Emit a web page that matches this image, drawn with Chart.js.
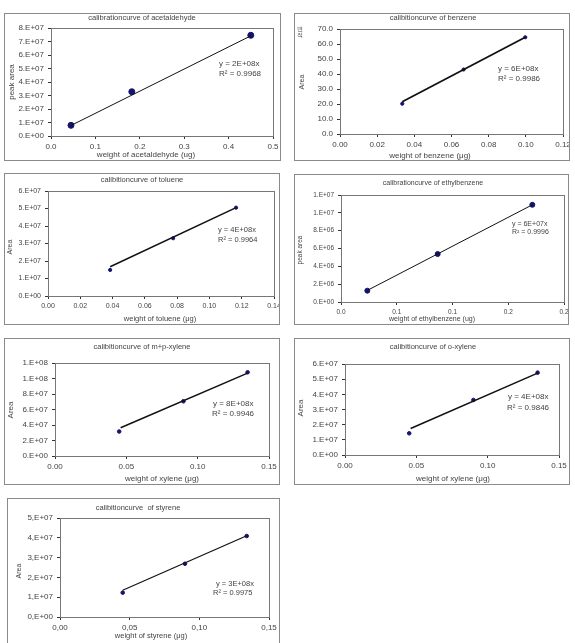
<!DOCTYPE html>
<html>
<head>
<meta charset="utf-8">
<script src="https://cdn.jsdelivr.net/npm/chart.js@4.4.0/dist/chart.umd.min.js"></script>
<style>
html, body { margin: 0; padding: 0; background: #fff; width: 575px; height: 643px; overflow: hidden; position: relative; }
canvas { position: absolute; }
</style>
</head>
<body>
<canvas id="c1"></canvas>
<canvas id="c2"></canvas>
<canvas id="c3"></canvas>
<canvas id="c4"></canvas>
<canvas id="c5"></canvas>
<canvas id="c6"></canvas>
<canvas id="c7"></canvas>
<script>
// acetaldehyde
const acetX = [0.045, 0.182, 0.45];
const acetY = [0.79e7, 3.28e7, 7.46e7];
const acetFitX = [0.045, 0.45];
const acetFitY = [0.78e7, 7.42e7];
const acetXTicks = ['0.0', '0.1', '0.2', '0.3', '0.4', '0.5'];
const acetYTicks = ['0.E+00', '1.E+07', '2.E+07', '3.E+07', '4.E+07', '5.E+07', '6.E+07', '7.E+07', '8.E+07'];

// benzene
const benzX = [0.0335, 0.0665, 0.0997];
const benzY = [20.2, 43.0, 64.5];
const benzFitX = [0.0335, 0.0997];
const benzFitY = [21.5, 64.5];
const benzXTicks = ['0.00', '0.02', '0.04', '0.06', '0.08', '0.10', '0.12'];
const benzYTicks = ['0.0', '10.0', '20.0', '30.0', '40.0', '50.0', '60.0', '70.0'];

// toluene
const tolX = [0.0385, 0.0775, 0.1165];
const tolY = [1.49e7, 3.3e7, 5.05e7];
const tolFitX = [0.0385, 0.1165];
const tolFitY = [1.67e7, 5.05e7];
const tolXTicks = ['0.00', '0.02', '0.04', '0.06', '0.08', '0.10', '0.12', '0.14'];
const tolYTicks = ['0.E+00', '1.E+07', '2.E+07', '3.E+07', '4.E+07', '5.E+07', '6.E+07'];

// ethylbenzene
const ethX = [0.0236, 0.0867, 0.1716];
const ethY = [1.27e6, 5.38e6, 1.09e7];
const ethFitX = [0.0236, 0.1716];
const ethFitY = [1.3e6, 1.09e7];
const ethXTicks = ['0.0', '0.1', '0.1', '0.2', '0.2'];
const ethYTicks = ['0.E+00', '2.E+06', '4.E+06', '6.E+06', '8.E+06', '1.E+07', '1.E+07'];

// m+p-xylene
const mpX = [0.045, 0.09, 0.135];
const mpY = [3.16e7, 7.06e7, 1.08e8];
const mpFitX = [0.046, 0.135];
const mpFitY = [3.65e7, 1.07e8];
const mpXTicks = ['0.00', '0.05', '0.10', '0.15'];
const mpYTicks = ['0.E+00', '2.E+07', '4.E+07', '6.E+07', '8.E+07', '1.E+08', '1.E+08'];

// o-xylene
const oX = [0.045, 0.09, 0.135];
const oY = [1.43e7, 3.63e7, 5.43e7];
const oFitX = [0.046, 0.135];
const oFitY = [1.75e7, 5.4e7];
const oXTicks = ['0.00', '0.05', '0.10', '0.15'];
const oYTicks = ['0.E+00', '1.E+07', '2.E+07', '3.E+07', '4.E+07', '5.E+07', '6.E+07'];

// styrene
const styX = [0.045, 0.0897, 0.134];
const styY = [1.23e7, 2.69e7, 4.09e7];
const styFitX = [0.045, 0.134];
const styFitY = [1.35e7, 4.1e7];
const styXTicks = ['0,00', '0,05', '0,10', '0,15'];
const styYTicks = ['0,E+00', '1,E+07', '2,E+07', '3,E+07', '4,E+07', '5,E+07'];

const FONT = '"Liberation Sans", Arial, sans-serif';
const TXT = '#444';

function drawCalib(id, o) {
	const el = document.getElementById(id);
	const bx = o.box[0], by = o.box[1];
	const w = o.box[2] - bx, h = o.box[3] - by;
	el.width = w; el.height = h;
	el.style.left = bx + 'px'; el.style.top = by + 'px';
	el.style.width = w + 'px'; el.style.height = h + 'px';

	const L = o.plot[0] - bx, T = o.plot[1] - by;
	const R = o.box[2] - o.plot[2], B = o.box[3] - o.plot[3];

	const pts = o.x.map((v, i) => ({ x: v, y: o.y[i] }));
	const fit = o.fitX.map((v, i) => ({ x: v, y: o.fitY[i] }));
	const tf = { family: FONT, size: o.fs };

	const texts = {
		id: 'texts' + id,
		afterDraw(chart) {
			const ctx = chart.ctx, a = chart.chartArea;
			ctx.save();
			ctx.strokeStyle = '#8a8a8a';
			ctx.lineWidth = 1;
			ctx.strokeRect(0.5, 0.5, w - 1, h - 1);
			ctx.strokeStyle = '#777';
			ctx.strokeRect(Math.round(a.left) + 0.5, Math.round(a.top) + 0.5, Math.round(a.right - a.left), Math.round(a.bottom - a.top));
			ctx.fillStyle = TXT;
			ctx.textBaseline = 'middle';
			o.texts.forEach(t => {
				ctx.save();
				ctx.font = (t.s || o.fs) + 'px ' + FONT;
				ctx.textAlign = t.a || 'center';
				ctx.translate(t.x - bx, t.y - by);
				if (t.rot) ctx.rotate(-Math.PI / 2);
				ctx.fillText(t.t, 0, 0);
				ctx.restore();
			});
			ctx.restore();
		}
	};

	new Chart(el, {
		type: 'scatter',
		data: {
			datasets: [{
				data: fit,
				showLine: true,
				borderColor: '#111',
				borderWidth: o.lw,
				pointRadius: 0
			}, {
				data: pts,
				pointRadius: o.r,
				backgroundColor: '#14146e',
				borderColor: '#14146e'
			}]
		},
		options: {
			responsive: false,
			animation: false,
			layout: { padding: { top: T, right: R, left: 0, bottom: 0 } },
			plugins: { legend: { display: false }, tooltip: { enabled: false } },
			scales: {
				x: {
					type: 'linear', min: 0, max: o.xmax,
					ticks: { stepSize: o.xstep, autoSkip: false, maxRotation: 0, font: tf, color: TXT, padding: 3,
						callback: (v, i) => o.xTicks[i] },
					grid: { drawOnChartArea: false, tickLength: 3, color: '#333' },
					border: { color: '#333' },
					afterFit(a) { a.height = B; a.paddingLeft = 0; a.paddingRight = 0; }
				},
				y: {
					type: 'linear', min: 0, max: o.ymax,
					ticks: { stepSize: o.ystep, autoSkip: false, font: tf, color: TXT, padding: 4,
						callback: (v, i) => o.yTicks[i] },
					grid: { drawOnChartArea: false, tickLength: 3, color: '#333' },
					border: { color: '#333' },
					afterFit(a) { a.width = L; a.paddingTop = 0; a.paddingBottom = 0; }
				}
			}
		},
		plugins: [texts]
	});
}

drawCalib('c1', {
	box: [4, 13, 281, 161], plot: [51, 28, 273, 136],
	x: acetX, y: acetY, fitX: acetFitX, fitY: acetFitY, xTicks: acetXTicks, yTicks: acetYTicks,
	xmax: 0.5, xstep: 0.1, ymax: 8e7, ystep: 1e7, fs: 8, r: 3, lw: 1,
	texts: [
		{ t: 'calibrationcurve of acetaldehyde', x: 142, y: 18, s: 7.5 },
		{ t: 'weight of acetaldehyde (ug)', x: 146, y: 155 },
		{ t: 'peak area', x: 12, y: 82, rot: true },
		{ t: 'y = 2E+08x', x: 219, y: 64, a: 'left' },
		{ t: 'R² = 0.9968', x: 219, y: 74, a: 'left' }
	]
});

drawCalib('c2', {
	box: [294, 13, 570, 161], plot: [340, 29, 563, 134],
	x: benzX, y: benzY, fitX: benzFitX, fitY: benzFitY, xTicks: benzXTicks, yTicks: benzYTicks,
	xmax: 0.12, xstep: 0.02, ymax: 70, ystep: 10, fs: 8, r: 1.6, lw: 1.8,
	texts: [
		{ t: 'calibitioncurve of benzene', x: 433, y: 18, s: 7.5 },
		{ t: 'weight of benzene (μg)', x: 430, y: 156 },
		{ t: 'Area', x: 302, y: 82, rot: true, s: 7 },
		{ t: '면', x: 300, y: 29, s: 5.5 },
		{ t: '적', x: 300, y: 35, s: 5.5 },
		{ t: 'y = 6E+08x', x: 498, y: 69, a: 'left' },
		{ t: 'R² = 0.9986', x: 498, y: 79, a: 'left' }
	]
});

drawCalib('c3', {
	box: [4, 173, 280, 325], plot: [48, 191, 274, 296],
	x: tolX, y: tolY, fitX: tolFitX, fitY: tolFitY, xTicks: tolXTicks, yTicks: tolYTicks,
	xmax: 0.14, xstep: 0.02, ymax: 6e7, ystep: 1e7, fs: 7, r: 1.6, lw: 1.5,
	texts: [
		{ t: 'calibitioncurve of toluene', x: 142, y: 180, s: 7.5 },
		{ t: 'weight of toluene (μg)', x: 160, y: 319, s: 7.5 },
		{ t: 'Area', x: 10, y: 247, rot: true, s: 7 },
		{ t: 'y = 4E+08x', x: 218, y: 230, a: 'left', s: 7.5 },
		{ t: 'R² = 0.9964', x: 218, y: 240, a: 'left', s: 7.5 }
	]
});

drawCalib('c4', {
	box: [294, 174, 569, 325], plot: [341, 195, 564, 302],
	x: ethX, y: ethY, fitX: ethFitX, fitY: ethFitY, xTicks: ethXTicks, yTicks: ethYTicks,
	xmax: 0.2, xstep: 0.05, ymax: 1.2e7, ystep: 2e6, fs: 6.5, r: 2.5, lw: 1,
	texts: [
		{ t: 'calibrationcurve of ethylbenzene', x: 433, y: 183, s: 7 },
		{ t: 'weight of ethylbenzene (ug)', x: 432, y: 319, s: 7 },
		{ t: 'peak area', x: 300, y: 250, rot: true, s: 6.5 },
		{ t: 'y = 6E+07x', x: 512, y: 224, a: 'left', s: 7 },
		{ t: 'R² = 0.9996', x: 512, y: 232, a: 'left', s: 7 }
	]
});

drawCalib('c5', {
	box: [4, 338, 280, 485], plot: [55, 363, 269, 456],
	x: mpX, y: mpY, fitX: mpFitX, fitY: mpFitY, xTicks: mpXTicks, yTicks: mpYTicks,
	xmax: 0.15, xstep: 0.05, ymax: 1.2e8, ystep: 2e7, fs: 8, r: 1.8, lw: 1.5,
	texts: [
		{ t: 'calibitioncurve of m+p-xylene', x: 142, y: 347, s: 7.5 },
		{ t: 'weight of xylene (μg)', x: 162, y: 479 },
		{ t: 'Area', x: 11, y: 410, rot: true },
		{ t: 'y = 8E+08x', x: 213, y: 404, a: 'left' },
		{ t: 'R² = 0.9946', x: 212, y: 414, a: 'left' }
	]
});

drawCalib('c6', {
	box: [294, 338, 570, 485], plot: [345, 364, 559, 455],
	x: oX, y: oY, fitX: oFitX, fitY: oFitY, xTicks: oXTicks, yTicks: oYTicks,
	xmax: 0.15, xstep: 0.05, ymax: 6e7, ystep: 1e7, fs: 8, r: 1.8, lw: 1.5,
	texts: [
		{ t: 'calibitioncurve of o-xylene', x: 433, y: 347, s: 7.5 },
		{ t: 'weight of xylene (μg)', x: 453, y: 479 },
		{ t: 'Area', x: 301, y: 408, rot: true },
		{ t: 'y = 4E+08x', x: 508, y: 397, a: 'left' },
		{ t: 'R² = 0.9846', x: 507, y: 408, a: 'left' }
	]
});

drawCalib('c7', {
	box: [7, 498, 280, 660], plot: [60, 518, 269, 617],
	x: styX, y: styY, fitX: styFitX, fitY: styFitY, xTicks: styXTicks, yTicks: styYTicks,
	xmax: 0.15, xstep: 0.05, ymax: 5e7, ystep: 1e7, fs: 8, r: 1.8, lw: 1.2,
	texts: [
		{ t: 'calibitioncurve  of styrene', x: 138, y: 508, s: 7.5 },
		{ t: 'weight of styrene (μg)', x: 151, y: 636, s: 7.5 },
		{ t: 'Area', x: 19, y: 571, rot: true, s: 7 },
		{ t: 'y = 3E+08x', x: 216, y: 584, a: 'left', s: 7.5 },
		{ t: 'R² = 0.9975', x: 213, y: 593, a: 'left', s: 7.5 }
	]
});
</script>
</body>
</html>
